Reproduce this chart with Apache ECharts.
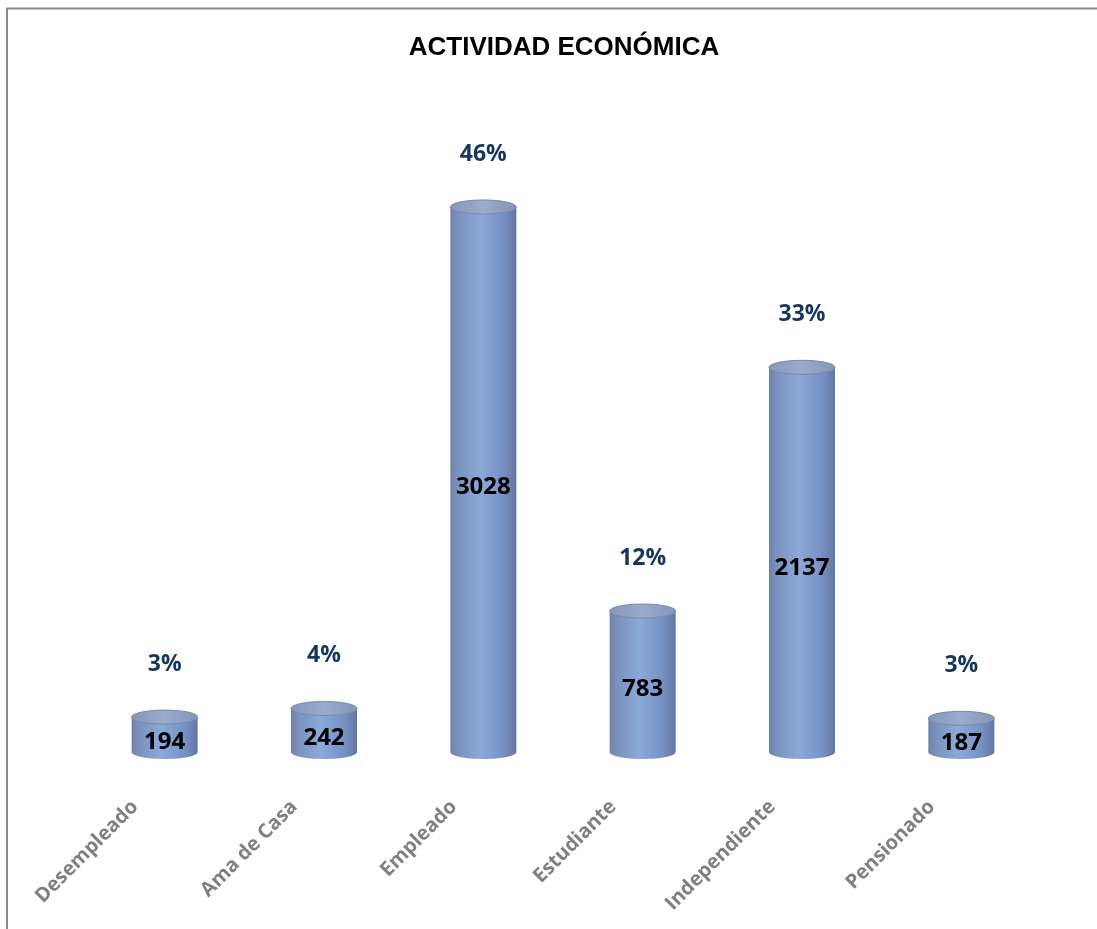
<!DOCTYPE html>
<html>
<head>
<meta charset="utf-8">
<script src="https://cdn.jsdelivr.net/npm/echarts@6/dist/echarts.min.js"></script>
<style>
  html, body { margin: 0; padding: 0; background: #ffffff; }
  #chart { width: 1097px; height: 929px; }
</style>
</head>
<body>
<div id="chart"></div>
<script>
// Activity categories and the number of people in each
const categories = ['Desempleado', 'Ama de Casa', 'Empleado', 'Estudiante', 'Independiente', 'Pensionado'];
const counts = [194, 242, 3028, 783, 2137, 187];

const total = counts.reduce((a, b) => a + b, 0);
const percentLabels = counts.map(v => Math.round(v / total * 100) + '%');

const chart = echarts.init(document.getElementById('chart'));

const bodyGradient = new echarts.graphic.LinearGradient(0, 0, 1, 0, [
  { offset: 0, color: '#6f82a8' },
  { offset: 0.12, color: '#7b92be' },
  { offset: 0.45, color: '#8ba9d9' },
  { offset: 0.8, color: '#7791c4' },
  { offset: 1, color: '#6376a2' }
]);
const capGradient = new echarts.graphic.LinearGradient(0, 0, 1, 0, [
  { offset: 0, color: '#8696b9' },
  { offset: 0.5, color: '#9aabcc' },
  { offset: 1, color: '#8494b8' }
]);

function renderCylinder(params, api) {
  const idx = api.value(0);
  const val = api.value(1);
  const top = api.coord([idx, val]);
  const base = api.coord([idx, 0]);
  const rx = 33, ry = 7;
  const cx = top[0];
  const yTop = top[1];
  const yBase = base[1];
  return {
    type: 'group',
    children: [
      { type: 'ellipse', shape: { cx: cx, cy: yBase, rx: rx, ry: ry }, style: { fill: bodyGradient } },
      { type: 'rect', shape: { x: cx - rx, y: yTop, width: rx * 2, height: yBase - yTop }, style: { fill: bodyGradient } },
      { type: 'ellipse', shape: { cx: cx, cy: yTop, rx: rx, ry: ry }, style: { fill: capGradient, stroke: '#7a8aac', lineWidth: 1 } },
      {
        type: 'text',
        style: {
          x: cx, y: (yTop + yBase) / 2 + 8,
          text: String(counts[idx]),
          fill: '#000000',
          font: 'bold 24px "Open Sans"',
          align: 'center', verticalAlign: 'middle'
        }
      },
      {
        type: 'text',
        style: {
          x: cx, y: yTop - 53,
          text: percentLabels[idx],
          fill: '#17365d',
          font: 'bold 23px "Open Sans"',
          align: 'center', verticalAlign: 'middle'
        }
      }
    ]
  };
}

chart.setOption({
  animation: false,
  backgroundColor: '#ffffff',
  title: {
    text: 'ACTIVIDAD ECONÓMICA',
    left: 559, top: 30,
    textAlign: 'center',
    textStyle: { fontFamily: '"Liberation Sans", Arial, sans-serif', fontWeight: 'bold', fontSize: 26, color: '#000000' }
  },
  graphic: [
    { type: 'line', shape: { x1: 6, y1: 8.5, x2: 1097, y2: 8.5 }, style: { stroke: '#8a8a8a', lineWidth: 2 } },
    { type: 'line', shape: { x1: 7, y1: 8, x2: 7, y2: 929 }, style: { stroke: '#8a8a8a', lineWidth: 2 } }
  ],
  grid: { left: 85, right: 56, top: 122, bottom: 177 },
  xAxis: {
    type: 'category',
    data: categories,
    axisLine: { show: false },
    axisTick: { show: false },
    axisLabel: {
      interval: 0,
      rotate: 45,
      margin: 22,
      padding: [0, 42, 0, 0],
      color: '#808080',
      fontFamily: '"Open Sans"',
      fontWeight: 'bold',
      fontSize: 20
    }
  },
  yAxis: {
    type: 'value',
    min: 0, max: 3500,
    show: false,
    splitLine: { show: false }
  },
  series: [{
    type: 'custom',
    renderItem: renderCylinder,
    data: counts.map((v, i) => [i, v]),
    clip: false
  }]
});
</script>
</body>
</html>
